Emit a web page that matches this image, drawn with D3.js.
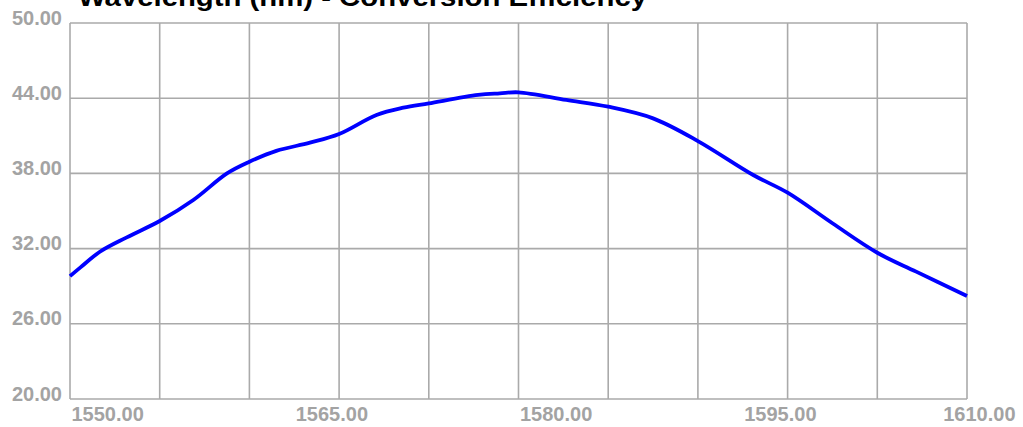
<!DOCTYPE html>
<html>
<head>
<meta charset="utf-8">
<script src="https://cdn.jsdelivr.net/npm/d3@7"></script>
<style>
  html, body { margin: 0; padding: 0; background: #fff; }
  svg { display: block; }
  .tick text { font-family: "Liberation Sans", Arial, sans-serif; font-weight: bold; font-size: 20px; fill: #a3a3a3; }
  .title { font-family: "Liberation Sans", Arial, sans-serif; font-weight: bold; font-size: 26px; fill: #000; }
</style>
</head>
<body>
<div id="chart"></div>
<script>
// wavelength (nm) and efficiency (%)
const wavelength = [1550, 1550.7, 1552.0, 1553.8, 1556, 1558.25, 1560.5, 1562, 1563.8, 1566.05, 1568,
                    1570.5, 1572.3, 1574, 1577.3, 1578.75, 1580, 1583.2, 1586, 1589, 1592, 1595.7,
                    1598, 1601, 1604, 1606.6, 1610];
const efficiency = [29.8, 30.5, 31.75, 32.9, 34.2, 35.88, 38.0, 38.93, 39.8, 40.45, 41.14,
                    42.66, 43.24, 43.59, 44.26, 44.39, 44.47, 43.86, 43.32, 42.39, 40.58, 37.87,
                    36.46, 34.02, 31.67, 30.16, 28.22];
const xGridTicks = d3.range(1550, 1611, 6);
const xLabelTicks = [1550, 1565, 1580, 1595, 1610];
const yTicks = [20, 26, 32, 38, 44, 50];
const titleText = 'Wavelength (nm) - Conversion Efficiency';

const width = 1023, height = 427;
const margin = {top: 23, right: 56, bottom: 28, left: 70};
const w = width - margin.left - margin.right,
      h = height - margin.top - margin.bottom;

const svg = d3.select('#chart').append('svg')
    .attr('width', width).attr('height', height);

// title is cut off at the top of the picture
svg.append('text').classed('title', true)
    .attr('x', 78).attr('y', 6)
    .attr('textLength', 569).attr('lengthAdjust', 'spacingAndGlyphs')
    .text(titleText);

const chart = svg.append('g').attr('transform', `translate(${margin.left},${margin.top})`);

const x = d3.scaleLinear([1550, 1610], [0, w]);
const y = d3.scaleLinear([20, 50], [h, 0]);

// grid
chart.append('g')
    .selectAll('line').data(xGridTicks).join('line')
    .attr('x1', d => x(d)).attr('x2', d => x(d))
    .attr('y1', 0).attr('y2', h)
    .attr('stroke', '#aaaaaa').attr('stroke-width', 1.6);
chart.append('g')
    .selectAll('line').data(yTicks).join('line')
    .attr('x1', 0).attr('x2', w)
    .attr('y1', d => y(d)).attr('y2', d => y(d))
    .attr('stroke', '#aaaaaa').attr('stroke-width', 1.6);

// axes (labels only)
const axisY = chart.append('g')
    .call(d3.axisLeft(y).tickValues(yTicks).tickFormat(d3.format('.2f')).tickSize(0).tickPadding(8));
axisY.select('.domain').remove();
axisY.selectAll('text').attr('dy', '0.05em');

const axisX = chart.append('g')
    .attr('transform', `translate(0,${h})`)
    .call(d3.axisBottom(x).tickValues(xLabelTicks).tickFormat(d3.format('.2f')).tickSize(0).tickPadding(0));
axisX.select('.domain').remove();
axisX.selectAll('text')
    .attr('text-anchor', 'start').attr('dx', 1).attr('y', 22).attr('dy', 0);
// last label is pulled in so it stays inside the picture
axisX.selectAll('.tick').filter(d => d === 1610).select('text')
    .attr('text-anchor', 'end').attr('dx', 48);

// curve
const line = d3.line()
    .x((d, i) => x(wavelength[i]))
    .y(d => y(d))
    .curve(d3.curveCatmullRom.alpha(0.5));
chart.append('path')
    .datum(efficiency)
    .attr('d', line)
    .attr('fill', 'none')
    .attr('stroke', '#0000ff')
    .attr('stroke-width', 3.8);
</script>
</body>
</html>
